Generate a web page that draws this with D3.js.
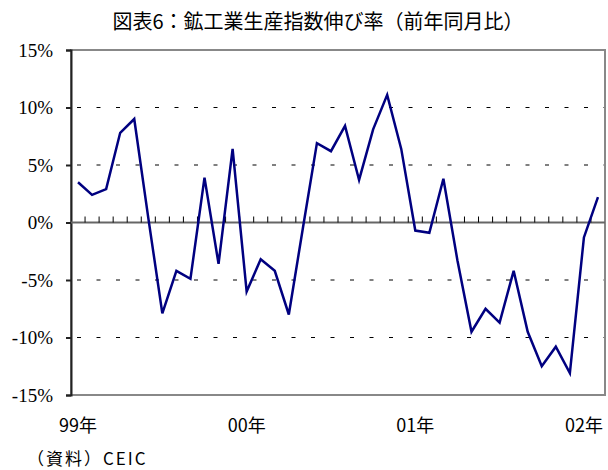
<!DOCTYPE html>
<html>
<head>
<meta charset="utf-8">
<script src="https://cdn.jsdelivr.net/npm/d3@7"></script>
<style>
  body { margin: 0; background: #fff; }
  .jp { font-family: "Noto Sans CJK JP", "Noto Sans", sans-serif; }
  .ylab { font-family: "Liberation Serif", "Times New Roman", serif; }
</style>
</head>
<body>
<div id="chart"></div>
<script>
// monthly, 1999/01 - 2002/02
var months = d3.range(38);
var values = [3.5, 2.4, 2.9, 7.8, 9.0, 0.4, -7.9, -4.2, -4.9, 3.9, -3.6, 6.4,
  -6.0, -3.2, -4.2, -8.0, -0.5, 6.9, 6.2, 8.4, 3.7, 8.1, 11.1, 6.4,
  -0.7, -0.9, 3.8, -3.3, -9.5, -7.5, -8.7, -4.2, -9.5, -12.5, -10.8, -13.1,
  -1.3, 2.2];
var yearLabels = [{ i: 0, label: "99年" }, { i: 12, label: "00年" }, { i: 24, label: "01年" }, { i: 36, label: "02年" }];
var yTicks = [-15, -10, -5, 0, 5, 10, 15];
var gridTicks = [-10, -5, 5, 10];

var width = 608,
  height = 470,
  margin = { left: 71, right: 3, top: 50, bottom: 75 },
  innerW = width - margin.left - margin.right,
  innerH = height - margin.top - margin.bottom;

var svg = d3.select("#chart").append("svg")
  .attr("width", width)
  .attr("height", height);

svg.append("text")
  .attr("class", "jp")
  .attr("x", 318)
  .attr("y", 29)
  .attr("text-anchor", "middle")
  .style("font-size", "20px")
  .text("図表6：鉱工業生産指数伸び率（前年同月比）");

var chart = svg.append("g")
  .attr("transform", "translate(" + margin.left + "," + margin.top + ")");

var xScale = d3.scaleBand().domain(months).range([0, innerW]);
var yScale = d3.scaleLinear().domain([-15, 15]).range([innerH, 0]);

// dashed grid
chart.selectAll(".grid")
  .data(gridTicks)
  .enter().append("line")
  .attr("class", "grid")
  .attr("x1", 0).attr("x2", innerW)
  .attr("y1", function (d) { return yScale(d); })
  .attr("y2", function (d) { return yScale(d); })
  .attr("stroke", "#000")
  .attr("stroke-width", 1)
  .attr("stroke-dasharray", "4,15.5")
  .attr("stroke-dashoffset", -6);

// frame
chart.append("rect")
  .attr("x", 0).attr("y", 0)
  .attr("width", innerW).attr("height", innerH)
  .attr("fill", "none")
  .attr("stroke", "#888")
  .attr("stroke-width", 2);

// y axis: ticks drawn by d3, labels placed separately in serif
var yAxis = chart.append("g")
  .call(d3.axisLeft(yScale).tickValues(yTicks).tickSize(5).tickFormat(""));
yAxis.select(".domain").attr("stroke", "#222").attr("stroke-width", 2);
yAxis.selectAll(".tick line").attr("stroke", "#222").attr("stroke-width", 2);

chart.selectAll(".ylab")
  .data(yTicks)
  .enter().append("text")
  .attr("class", "ylab")
  .attr("x", -18)
  .attr("y", function (d) { return yScale(d); })
  .attr("dy", "0.35em")
  .attr("text-anchor", "end")
  .style("font-size", "19px")
  .text(function (d) { return d + "%"; });

// zero line with month ticks
var zeroAxis = chart.append("g")
  .attr("transform", "translate(0," + yScale(0) + ")");
zeroAxis.append("line")
  .attr("x1", 0).attr("x2", innerW)
  .attr("stroke", "#666").attr("stroke-width", 2);
zeroAxis.selectAll(".mtick")
  .data(months.slice(1))
  .enter().append("line")
  .attr("class", "mtick")
  .attr("x1", function (d) { return xScale(d); })
  .attr("x2", function (d) { return xScale(d); })
  .attr("y1", 0).attr("y2", -6)
  .attr("stroke", "#000").attr("stroke-width", 1);

// x labels
chart.selectAll(".xlab")
  .data(yearLabels)
  .enter().append("text")
  .attr("class", "jp xlab")
  .attr("x", function (d) { return xScale(d.i) + xScale.bandwidth() / 2; })
  .attr("y", innerH + 37)
  .attr("text-anchor", "middle")
  .style("font-size", "18px")
  .text(function (d) { return d.label; });

// series line
var line = d3.line()
  .x(function (d, i) { return xScale(months[i]) + xScale.bandwidth() / 2; })
  .y(function (d) { return yScale(d); });

chart.append("path")
  .datum(values)
  .attr("d", line)
  .attr("fill", "none")
  .attr("stroke", "#000080")
  .attr("stroke-width", 2.5)
  .attr("stroke-linejoin", "miter");

svg.append("text")
  .attr("class", "jp")
  .attr("x", 27)
  .attr("y", 465)
  .style("font-size", "17px")
  .style("letter-spacing", "2px")
  .text("（資料）CEIC");
</script>
</body>
</html>
